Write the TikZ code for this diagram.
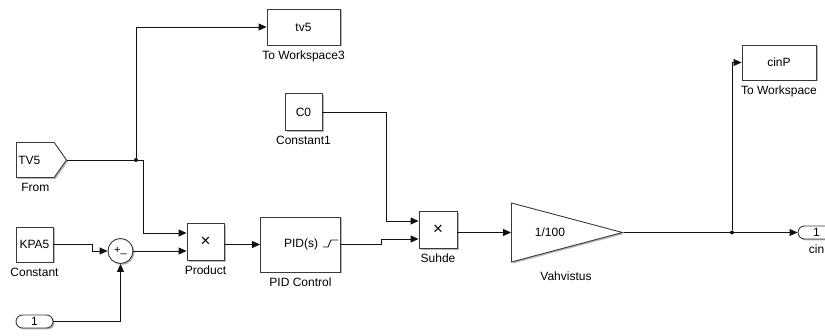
\documentclass[tikz,border=0pt]{standalone}
\usepackage{fontspec}
\setmainfont{Liberation Sans}
\usepackage{tikz}
\usetikzlibrary{arrows.meta,positioning,shapes.geometric,shapes.symbols,shapes.misc,shadows}
\definecolor{slEdge}{HTML}{3A3A3A}
\definecolor{slShade}{HTML}{B8B8B8}
\definecolor{slWire}{HTML}{111111}
\tikzset{
  block/.style={
    draw=slEdge,
    fill=white,
    line width=0.9pt,
    drop shadow={shadow xshift=1.5pt, shadow yshift=-1.5pt, fill=slShade, opacity=1},
    align=center,
    inner sep=0pt,
    font=\fontsize{12}{14}\selectfont
  },
  caption/.style={font=\fontsize{12}{14}\selectfont, inner sep=2pt},
  below caption/.style={label={[caption, label distance=3pt]below:#1}},
  port/.style={block, rounded rectangle, minimum width=37pt, minimum height=13pt},
  wire/.style={-{Triangle[length=8pt,width=7pt]}, line width=0.9pt, draw=slWire},
  plain/.style={line width=0.9pt, draw=slWire},
  joint/.style={circle, fill=slWire, inner sep=0pt, minimum size=4pt},
  times/.style={font=\fontsize{17}{17}\selectfont}
}

\begin{document}
\begin{tikzpicture}[x=1pt, y=-1pt]
  \useasboundingbox (0,0) rectangle (825,336);

  \node[block, signal, signal to=east, signal pointer angle=110, minimum width=50pt, minimum height=35pt,
        anchor=west, below caption=From] (from) at (16,160) {TV5\hspace{12pt}};
  \node[block, minimum width=37pt, minimum height=35pt, below caption=Constant] (kpa) at (34.5,244.5) {KPA5};
  \node[port] (inp) at (34.5,321.5) {1};
  \node[block, circle, minimum size=25pt] (sum) at (120.5,251) {\fontsize{11}{11}\selectfont +\raisebox{1.5pt}{\_}};
  \node[block, minimum width=37pt, minimum height=37pt, below caption=Product] (prod) at (205.5,242) {\fontsize{17}{17}\selectfont ×};
  \node[block, minimum width=73pt, minimum height=36pt, below caption=To Workspace3] (tvws) at (303.5,27) {tv5};
  \node[block, minimum width=37pt, minimum height=37pt, below caption=Constant1] (c0) at (303.5,112) {C0};
  \node[block, minimum width=80pt, minimum height=55pt, below caption=PID Control] (pid) at (300.5,244.5) {};
  \node[caption] (pidtxt) at (301,244) {PID(s)};
  \node[block, minimum width=38pt, minimum height=37pt, below caption=Suhde] (suhde) at (438,230) {\fontsize{17}{17}\selectfont ×};
  \node[block, isosceles triangle, isosceles triangle stretches, minimum width=59pt, minimum height=111pt,
        anchor=west] (gain) at (511,232.5) {};
  \node[caption] (gaintxt) at (550,232) {1/100};
  \node[caption] (gainlbl) at (566,276) {Vahvistus};
  \node[block, minimum width=74pt, minimum height=35pt, below caption=To Workspace] (ws) at (779,62.5) {cinP};
  \node[port, below caption=cin] (outp) at (816.5,232.5) {1};
  \node[joint] (dotA) at (136,160) {};
  \node[joint] (dotB) at (732,232.5) {};
  \coordinate (bendA) at (143,160);

  \draw[plain] (323,247) -- (328,247) -- (331,240) -- (338,240);

  \draw[plain] (from.east) -- (bendA);
  \draw[wire] (bendA) |- ([yshift=9pt]prod.west);
  \draw[wire] (dotA) |- (tvws.west);
  \draw[wire] (kpa.east) -- ++(39,0) |- (sum.west);
  \draw[wire] (inp.east) -| (sum.south);
  \draw[wire] (sum.east) -- ([yshift=-9pt]prod.west);
  \draw[wire] (pid.west -| prod.east) -- (pid.west);
  \draw[wire] (pid.east) -- ++(40,0) |- ([yshift=-9pt]suhde.west);
  \draw[wire] (c0.east) -- ++(64,0) |- ([yshift=9pt]suhde.west);
  \draw[wire] (gain.west -| suhde.east) -- (gain.west);
  \draw[wire] (gain.east) -- (outp.west);
  \draw[wire] (dotB) |- (ws.west);
\end{tikzpicture}
\end{document}
